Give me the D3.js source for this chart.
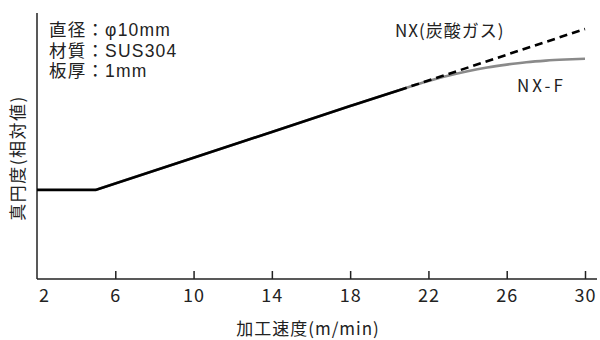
<!DOCTYPE html>
<html><head><meta charset="utf-8">
<script src="https://cdn.jsdelivr.net/npm/d3@7/dist/d3.min.js"></script>
<style>
body{margin:0;background:#fff;}
svg{display:block;font-family:"Noto Sans CJK JP","Noto Sans",sans-serif;}
</style></head><body>
<svg id="c" width="600" height="340"></svg>
<script>
// data
const xTicks = [2, 6, 10, 14, 18, 22, 26, 30];
const nxSpeed = [2, 5, 10, 14, 18, 20.5, 22, 26, 30];
const nxValue = [33.5, 33.5, 45.6, 55.3, 65, 71, 74.6, 84.3, 94];
const nxfSpeed = [5, 10, 14, 18, 20.5, 22, 23, 24, 25, 26, 27, 28, 29, 30];
const nxfValue = [33.5, 45.6, 55.3, 65, 71, 74.4, 76.4, 78.1, 79.5, 80.6, 81.5, 82.1, 82.5, 82.8];
const solidEnd = 20.5;
const notes = ["直径：φ10mm", "材質：SUS304", "板厚：1mm"];
const xTitle = "加工速度(m/min)";
const yTitle = "真円度(相対値)";
const nxLabel = "NX(炭酸ガス)";
const nxfLabel = "NX-F";

const svg = d3.select("#c");
const x = d3.scaleLinear().domain([2, 30]).range([37, 585]);
const y = d3.scaleLinear().domain([0, 100]).range([279, 13]);

// axes
svg.append("line").attr("x1", 37).attr("x2", 37).attr("y1", 13).attr("y2", 279)
  .attr("stroke", "#222").attr("stroke-width", 1.5);
svg.append("line").attr("x1", 37).attr("x2", 597).attr("y1", 279).attr("y2", 279)
  .attr("stroke", "#222").attr("stroke-width", 1.5);
const tg = svg.append("g").attr("transform", "translate(0,279)");
tg.call(d3.axisBottom(x).tickValues(xTicks).tickSize(0).tickPadding(0).tickFormat(d3.format("d")));
tg.select(".domain").remove();
tg.selectAll(".tick line").remove();
tg.selectAll(".tick").filter(d => d !== 2).append("line")
  .attr("y1", 0).attr("y2", -8).attr("stroke", "#222").attr("stroke-width", 1.5);
tg.selectAll(".tick text").attr("y", 23).attr("dy", null)
  .attr("font-size", 18).attr("fill", "#222").attr("letter-spacing", 1)
  .attr("font-family", "\"Noto Sans CJK JP\",sans-serif")
  .attr("dx", d => d === 2 ? 7 : 0);

// lines
const pts = (s, v) => s.map((d, i) => [d, v[i]]);
const line = d3.line().x(d => x(d[0])).y(d => y(d[1]));
const curve = d3.line().x(d => x(d[0])).y(d => y(d[1])).curve(d3.curveMonotoneX);
const nx = pts(nxSpeed, nxValue);
const nxf = pts(nxfSpeed, nxfValue);
svg.append("path").attr("d", curve(nxf)).attr("fill", "none").attr("stroke", "#8a8a8a").attr("stroke-width", 2.6);
svg.append("path").attr("d", line(nx.filter(d => d[0] <= solidEnd))).attr("fill", "none")
  .attr("stroke", "#000").attr("stroke-width", 2.6);
svg.append("path").attr("d", line(nx.filter(d => d[0] >= solidEnd))).attr("fill", "none")
  .attr("stroke", "#000").attr("stroke-width", 2.6).attr("stroke-dasharray", "8,5");

// texts
const tc = "#222";
svg.selectAll(".note").data(notes).join("text").attr("class", "note")
  .attr("x", 49).attr("y", (d, i) => 36 + i * 20.5).attr("font-size", 17.5)
  .attr("font-family", "\"Liberation Sans\",\"Noto Sans CJK JP\",sans-serif")
  .attr("letter-spacing", 1.2).attr("fill", tc).text(d => d);
svg.append("text").attr("x", 395).attr("y", 37).attr("font-size", 17)
  .attr("letter-spacing", 1).attr("fill", tc).text(nxLabel);
svg.append("text").attr("x", 517).attr("y", 92).attr("font-size", 17)
  .attr("letter-spacing", 3).attr("fill", tc).text(nxfLabel);
svg.append("text").attr("x", 308).attr("y", 335).attr("text-anchor", "middle").attr("font-size", 17)
  .attr("letter-spacing", 1).attr("fill", tc).text(xTitle);
svg.append("text").attr("transform", "translate(24,158) rotate(-90)").attr("text-anchor", "middle")
  .attr("font-size", 17).attr("letter-spacing", 1.5).attr("fill", tc).text(yTitle);
</script></body></html>
